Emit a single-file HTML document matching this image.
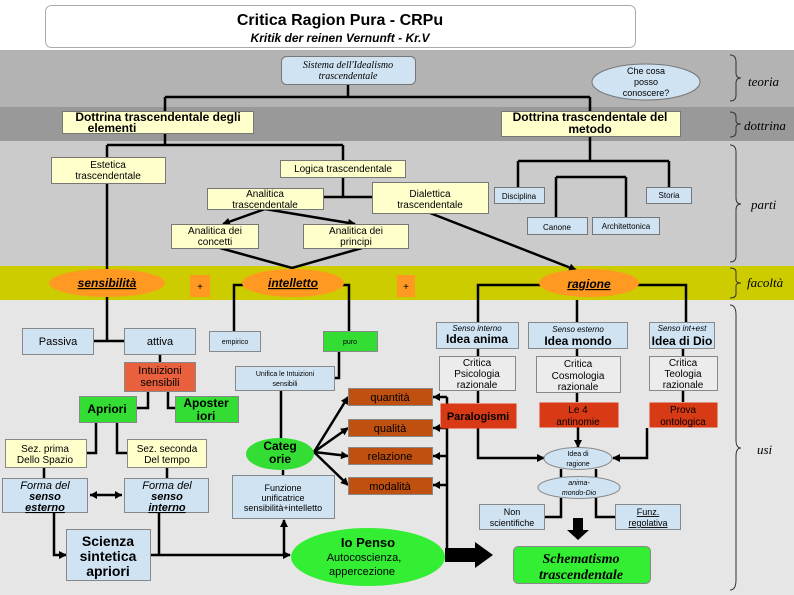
<!DOCTYPE html>
<html><head><meta charset="utf-8"><style>
html,body{margin:0;padding:0;background:#fff}
svg{display:block}
text{font-family:"Liberation Sans",sans-serif;fill:#000}
.s{font-family:"Liberation Serif",serif;font-style:italic}
</style></head><body>
<svg width="794" height="595" viewBox="0 0 794 595" xmlns="http://www.w3.org/2000/svg">
<defs>
<marker id="a" markerWidth="8" markerHeight="8" refX="7" refY="4" orient="auto" markerUnits="userSpaceOnUse"><path d="M0,0 L8,4 L0,8 z" fill="#000"/></marker>
<marker id="b" markerWidth="8" markerHeight="8" refX="1" refY="4" orient="auto" markerUnits="userSpaceOnUse"><path d="M8,0 L0,4 L8,8 z" fill="#000"/></marker>
</defs>
<rect x="0" y="0" width="794" height="50" fill="#fff"/>
<rect x="0" y="50" width="794" height="57" fill="#b3b3b3"/>
<rect x="0" y="107" width="794" height="34" fill="#999"/>
<rect x="0" y="141" width="794" height="125" fill="#cbcbcb"/>
<rect x="0" y="266" width="794" height="34" fill="#cccc00"/>
<rect x="0" y="300" width="794" height="295" fill="#e6e6e6"/>
<!-- header -->
<rect x="45.5" y="5.5" width="590" height="42" rx="6" fill="#fff" stroke="#aaa"/>
<text x="340" y="25" font-size="16" font-weight="bold" text-anchor="middle">Critica Ragion Pura - CRPu</text>
<text x="340" y="42" font-size="12" font-weight="bold" font-style="italic" text-anchor="middle">Kritik der reinen Vernunft - Kr.V</text>
<!-- right labels and braces -->
<g fill="none" stroke="#333" stroke-width="1">
<path d="M730,55 Q736,55 736,62 L736,73 Q736,78 741,78 Q736,78 736,83 L736,95 Q736,101 730,101"/>
<path d="M730,112 Q736,112 736,117 L736,121 Q736,124 741,124 Q736,124 736,127 L736,132 Q736,137 730,137"/>
<path d="M730,145 Q736,145 736,152 L736,198 Q736,204 741,204 Q736,204 736,210 L736,256 Q736,262 730,262"/>
<path d="M730,268 Q736,268 736,272 L736,280 Q736,283 741,283 Q736,283 736,286 L736,294 Q736,298 730,298"/>
<path d="M730,305 Q736,305 736,315 L736,440 Q736,448 741,448 Q736,448 736,456 L736,580 Q736,590 730,590"/>
</g>
<text class="s" x="748" y="86" font-size="13">teoria</text>
<text class="s" x="744" y="130" font-size="13">dottrina</text>
<text class="s" x="751" y="209" font-size="13">parti</text>
<text class="s" x="747" y="287" font-size="13">facoltà</text>
<text class="s" x="757" y="454" font-size="13">usi</text>

<!-- connector lines -->
<g stroke="#000" stroke-width="2.5" fill="none">
<path d="M348,84 V97 M165,97 H590 M165,97 V111 M590,97 V111"/>
<path d="M165,133 V145 M107,145 H343 M107,145 V157 M343,145 V160"/>
<path d="M343,177 V197 M323,197 H372"/>
<path d="M590,136 V161 M518,161 H669 M518,161 V187 M669,161 V187 M556,177 H626 M556,177 V217 M626,177 V217"/>
<path d="M107,184 V270"/>
<path d="M220,248 L292,268 L362,248"/>
<path d="M107,297 V341 M93,341 H124 M160,354 V362"/>
<path d="M234,331 V285 H349 V331"/>
<path d="M478,322 V285 H686 V322 M577,300 V322"/>
<path d="M148,391 V408 H136 M168,391 V408 H175"/>
<path d="M96,422 V453 H86 M117,422 V453 H127"/>
<path d="M44,467 V478 M167,467 V478"/>
<path d="M339,351 V378 H334"/>
<path d="M281,390 V452 M283,470 V475"/>
<path d="M159,512 V555"/>
<path d="M478,348 V356 M478,390 V403 M577,348 V356 M577,392 V402 M683,348 V356 M683,390 V402"/>
<path d="M561,469 V477 M596,469 V477 M561,498 V517 H544 M596,498 V517 H615"/>
<path d="M447,397 V555"/>
</g>
<g stroke="#000" stroke-width="2.5" fill="none" marker-end="url(#a)">
<path d="M265,209 L223,224"/>
<path d="M265,209 L355,224"/>
<path d="M430,213 L576,270"/>
<path d="M54,512 V555 H66"/>
<path d="M150,555 H290"/>
<path d="M284,555 V520"/>
<path d="M314,452 L348,397"/>
<path d="M314,452 L348,428"/>
<path d="M314,452 L348,456"/>
<path d="M314,452 L348,485"/>
<path d="M447,397 H433 M447,428 H433 M447,456 H433 M447,485 H433" marker-end="none"/>
<path d="M478,428 V458 H544"/>
<path d="M578,427 V447"/>
<path d="M647,428 V458 H613"/>
</g>
<g fill="#000">
<path d="M433,397 l7,-4 v8z M433,428 l7,-4 v8z M433,456 l7,-4 v8z M433,485 l7,-4 v8z"/>
<path d="M90,495 l7,-4 v8z M122,495 l-7,-4 v8z"/>
<path d="M573,518 h10 v12 h6 l-11,10 l-11,-10 h6z"/>
<path d="M445,548 h30 v-6 l18,13 l-18,13 v-6 h-30z"/>
</g>
<path d="M90,495 H122" stroke="#000" stroke-width="2.5"/>

<!-- top nodes -->
<g stroke="#777" stroke-width="1">
<rect x="281.5" y="56.5" width="134" height="28" rx="5" fill="#cfe3f3"/>
<ellipse cx="646" cy="82" rx="54" ry="18" fill="#cfe3f3"/>
<rect x="62.5" y="111.5" width="191" height="22" fill="#ffffcc"/>
<rect x="501.5" y="111.5" width="179" height="25" fill="#ffffcc"/>
<rect x="51.5" y="157.5" width="114" height="26" fill="#ffffcc"/>
<rect x="280.5" y="160.5" width="125" height="17" fill="#ffffcc"/>
<rect x="207.5" y="188.5" width="116" height="21" fill="#ffffcc"/>
<rect x="372.5" y="182.5" width="116" height="31" fill="#ffffcc"/>
<rect x="171.5" y="224.5" width="87" height="24" fill="#ffffcc"/>
<rect x="303.5" y="224.5" width="105" height="24" fill="#ffffcc"/>
<rect x="494.5" y="187.5" width="50" height="16" fill="#cfe3f3"/>
<rect x="646.5" y="187.5" width="45" height="16" fill="#cfe3f3"/>
<rect x="527.5" y="217.5" width="60" height="17" fill="#cfe3f3"/>
<rect x="592.5" y="217.5" width="67" height="17" fill="#cfe3f3"/>
</g>
<text class="s" x="348" y="68" font-size="10" text-anchor="middle">Sistema  dell'Idealismo</text>
<text class="s" x="348" y="79" font-size="10" text-anchor="middle">trascendentale</text>
<g font-size="9" text-anchor="middle">
<text x="646" y="74">Che cosa</text><text x="646" y="85">posso</text><text x="646" y="96">conoscere?</text>
</g>
<g font-size="12" font-weight="bold" text-anchor="middle">
<text x="158" y="121">Dottrina trascendentale degli</text><text x="112" y="132">elementi</text>
<text x="590" y="121">Dottrina trascendentale del</text><text x="590" y="133">metodo</text>
</g>
<g font-size="10" text-anchor="middle">
<text x="108" y="168">Estetica</text><text x="108" y="179">trascendentale</text>
<text x="343" y="172">Logica trascendentale</text>
<text x="265" y="197">Analitica</text><text x="265" y="208">trascendentale</text>
<text x="430" y="197">Dialettica</text><text x="430" y="208">trascendentale</text>
<text x="215" y="234">Analitica dei</text><text x="215" y="245">concetti</text>
<text x="356" y="234">Analitica dei</text><text x="356" y="245">principi</text>
</g>
<g font-size="8" text-anchor="middle">
<text x="519" y="199">Disciplina</text><text x="669" y="198">Storia</text>
<text x="557" y="230">Canone</text><text x="626" y="229">Architettonica</text>
</g>
<!-- faculties -->
<g fill="#ff9922">
<ellipse cx="107" cy="283" rx="58" ry="14"/>
<ellipse cx="293" cy="283" rx="51" ry="14"/>
<ellipse cx="589" cy="283" rx="50" ry="14"/>
<rect x="190" y="275" width="20" height="22"/>
<rect x="397" y="275" width="18" height="22"/>
</g>
<g font-size="12" font-weight="bold" font-style="italic" text-anchor="middle" text-decoration="underline">
<text x="107" y="287">sensibilità</text><text x="293" y="287">intelletto</text><text x="589" y="288">ragione</text>
</g>
<text x="200" y="290" font-size="10" text-anchor="middle">+</text>
<text x="406" y="290" font-size="10" text-anchor="middle">+</text>

<!-- bottom-left nodes -->
<g stroke="#888" stroke-width="1">
<rect x="22.5" y="328.5" width="71" height="26" fill="#cfe3f3"/>
<rect x="124.5" y="328.5" width="71" height="26" fill="#cfe3f3"/>
<rect x="124.5" y="362.5" width="71" height="29" fill="#e8603c"/>
<rect x="79.5" y="396.5" width="57" height="26" fill="#33dd33"/>
<rect x="175.5" y="396.5" width="63" height="26" fill="#33dd33"/>
<rect x="5.5" y="439.5" width="81" height="28" fill="#ffffcc"/>
<rect x="127.5" y="439.5" width="79" height="28" fill="#ffffcc"/>
<rect x="2.5" y="478.5" width="85" height="34" fill="#cfe3f3"/>
<rect x="124.5" y="478.5" width="84" height="34" fill="#cfe3f3"/>
<rect x="66.5" y="529.5" width="84" height="51" fill="#cfe3f3"/>
<rect x="209.5" y="331.5" width="51" height="20" fill="#cfe3f3"/>
<rect x="323.5" y="331.5" width="54" height="20" fill="#33dd33"/>
<rect x="235.5" y="366.5" width="99" height="24" fill="#cfe3f3"/>
<rect x="232.5" y="475.5" width="102" height="43" fill="#cfe3f3"/>
<ellipse cx="280" cy="454" rx="34" ry="16" fill="#33dd33" stroke="none"/>
<ellipse cx="368" cy="557" rx="77" ry="29" fill="#33ee33" stroke="none"/>
<rect x="348.5" y="388.5" width="84" height="17" fill="#c0500f"/>
<rect x="348.5" y="419.5" width="84" height="17" fill="#c0500f"/>
<rect x="348.5" y="447.5" width="84" height="17" fill="#c0500f"/>
<rect x="348.5" y="477.5" width="84" height="17" fill="#c0500f"/>
</g>
<g font-size="11" text-anchor="middle">
<text x="58" y="345">Passiva</text><text x="160" y="345">attiva</text>
</g>
<g font-size="11" text-anchor="middle" fill="#333">
<text x="160" y="374" fill="#422">Intuizioni</text><text x="160" y="386" fill="#422">sensibili</text>
</g>
<g font-size="12" font-weight="bold" text-anchor="middle">
<text x="107" y="413">Apriori</text>
<text x="206" y="407">Aposter</text><text x="206" y="420">iori</text>
</g>
<g font-size="10" text-anchor="middle">
<text x="45" y="452">Sez. prima</text><text x="45" y="463">Dello Spazio</text>
<text x="167" y="452">Sez. seconda</text><text x="167" y="463">Del tempo</text>
</g>
<g font-size="11" text-anchor="middle">
<text x="45" y="489" font-style="italic">Forma del</text>
<text x="45" y="500" font-style="italic" font-weight="bold">senso</text>
<text x="45" y="511" font-style="italic" font-weight="bold" text-decoration="underline">esterno</text>
<text x="167" y="489" font-style="italic">Forma del</text>
<text x="167" y="500" font-style="italic" font-weight="bold">senso</text>
<text x="167" y="511" font-style="italic" font-weight="bold" text-decoration="underline">interno</text>
</g>
<g font-size="14" font-weight="bold" text-anchor="middle">
<text x="108" y="546">Scienza</text><text x="108" y="561">sintetica</text><text x="108" y="576">apriori</text>
</g>
<g font-size="7" text-anchor="middle">
<text x="235" y="344">empirico</text><text x="350" y="344">puro</text>
<text x="285" y="376">Unifica le Intuizioni</text><text x="285" y="386">sensibili</text>
</g>
<g font-size="12" font-weight="bold" text-anchor="middle">
<text x="280" y="450">Categ</text><text x="280" y="463">orie</text>
</g>
<g font-size="9" text-anchor="middle">
<text x="283" y="491">Funzione</text><text x="283" y="501">unificatrice</text><text x="283" y="511">sensibilità+intelletto</text>
</g>
<text x="368" y="547" font-size="13" font-weight="bold" text-anchor="middle">Io Penso</text>
<text x="364" y="561" font-size="11" text-anchor="middle" fill="#224">Autocoscienza,</text>
<text x="362" y="575" font-size="11" text-anchor="middle" fill="#224">appercezione</text>
<g font-size="11" text-anchor="middle" fill="#222">
<text x="390" y="401">quantità</text><text x="390" y="432">qualità</text><text x="390" y="460">relazione</text><text x="390" y="490">modalità</text>
</g>

<!-- bottom-right nodes -->
<g stroke="#888" stroke-width="1">
<rect x="436.5" y="322.5" width="82" height="26" fill="#cfe3f3"/>
<rect x="528.5" y="322.5" width="99" height="26" fill="#cfe3f3"/>
<rect x="649.5" y="322.5" width="65" height="26" fill="#cfe3f3"/>
<rect x="439.5" y="356.5" width="76" height="34" fill="#ececec"/>
<rect x="536.5" y="356.5" width="84" height="36" fill="#ececec"/>
<rect x="649.5" y="356.5" width="68" height="34" fill="#ececec"/>
<rect x="440.5" y="403.5" width="76" height="25" fill="#d93a16" stroke="none"/>
<rect x="539.5" y="402.5" width="79" height="25" fill="#d93a16" stroke="none"/>
<rect x="649.5" y="402.5" width="68" height="25" fill="#d93a16" stroke="none"/>
<ellipse cx="578" cy="458.5" rx="34" ry="11" fill="#cfe3f3"/>
<ellipse cx="579" cy="487.5" rx="41" ry="11" fill="#cfe3f3"/>
<rect x="479.5" y="504.5" width="65" height="25" fill="#cfe3f3"/>
<rect x="615.5" y="504.5" width="65" height="25" fill="#cfe3f3"/>
<rect x="513.5" y="546.5" width="137" height="37" rx="5" fill="#33ee33"/>
</g>
<g font-size="8" font-style="italic" text-anchor="middle">
<text x="477" y="331">Senso interno</text><text x="578" y="332">Senso esterno</text><text x="682" y="331">Senso int+est</text>
</g>
<g font-size="12" font-weight="bold" text-anchor="middle">
<text x="477" y="343">Idea anima</text><text x="578" y="345">Idea mondo</text><text x="682" y="345">Idea di Dio</text>
</g>
<g font-size="10" text-anchor="middle">
<text x="477" y="366">Critica</text><text x="477" y="377">Psicologia</text><text x="477" y="388">razionale</text>
<text x="578" y="367">Critica</text><text x="578" y="379">Cosmologia</text><text x="578" y="390">razionale</text>
<text x="683" y="366">Critica</text><text x="683" y="377">Teologia</text><text x="683" y="388">razionale</text>
</g>
<text x="478" y="420" font-size="11" font-weight="bold" text-anchor="middle">Paralogismi</text>
<g font-size="10" text-anchor="middle" fill="#f5c0a8">
<text x="578" y="413" fill="#f5c0a8">Le 4</text><text x="578" y="425" fill="#f5c0a8">antinomie</text>
<text x="683" y="413" fill="#f5c0a8">Prova</text><text x="683" y="425" fill="#f5c0a8">ontologica</text>
</g>
<g font-size="7" text-anchor="middle">
<text x="578" y="456">Idea di</text><text x="578" y="466">ragione</text>
<text x="579" y="485" font-style="italic">anima-</text><text x="579" y="495" font-style="italic">mondo-Dio</text>
</g>
<g font-size="9" text-anchor="middle">
<text x="512" y="515">Non</text><text x="512" y="526">scientifiche</text>
<text x="648" y="515" text-decoration="underline">Funz.</text><text x="648" y="526" text-decoration="underline">regolativa</text>
</g>
<g class="s" font-size="14" font-weight="bold" text-anchor="middle">
<text class="s" x="581" y="563">Schematismo</text><text class="s" x="581" y="579">trascendentale</text>
</g>
</svg>
</body></html>
